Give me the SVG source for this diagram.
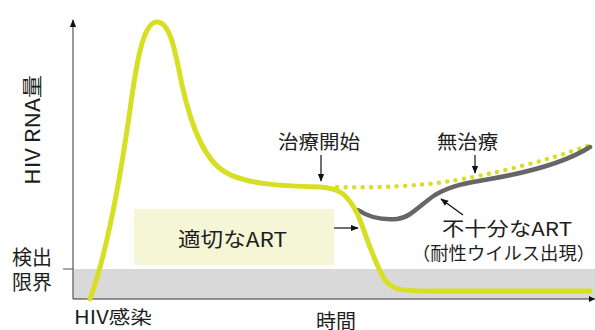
<svg xmlns="http://www.w3.org/2000/svg" width="595" height="330" viewBox="0 0 595 330">
<defs>
<marker id="ah" markerWidth="8" markerHeight="8" viewBox="0 0 10 10" refX="9" refY="5" orient="auto" markerUnits="userSpaceOnUse">
<path d="M0,1 L10,5 L0,9 Z" fill="#111"/>
</marker>
</defs>
<style>
text{font-family:"Noto Sans CJK JP","Noto Sans",sans-serif;fill:#1e1e1e}
.ptr{stroke:#111;stroke-width:1.2;fill:none;marker-end:url(#ah)}
.yl{fill:none;stroke:#d6df23;stroke-width:5;stroke-linecap:round;stroke-linejoin:round}
</style>
<g id="band">
<rect x="73" y="269" width="522" height="30" fill="#d9d9d9"/>
<rect x="134" y="209" width="200" height="56" fill="#f5f6d6"/>
</g>
<g id="axes">
<line x1="73" y1="299" x2="73" y2="20" stroke="#777" stroke-width="1.5" marker-end="url(#ah)"/>
<line x1="73" y1="299" x2="595" y2="299" stroke="#333" stroke-width="1.2"/>
<path d="M589,296 L595,299 L589,302 Z" fill="#111"/>
<line x1="63" y1="269" x2="73" y2="269" stroke="#555" stroke-width="1"/>
</g>
<g id="curves">
<path id="dotted" d="M337,187 C380,188 420,186 450,181 C490,175 550,160 590,145" fill="none" stroke="#d6df23" stroke-width="4.5" stroke-linecap="round" stroke-dasharray="0 8.5"/>
<path id="gray" d="M358,210 C370,218 385,220 397,219 C410,218 420,205 435,195 C450,186 465,183 490,179 C530,172 565,163 590,147" fill="none" stroke="#666" stroke-width="4.5" stroke-linecap="round"/>
<path id="yellow" class="yl" d="M90,299 C108,250 120,180 130,110 C138,50 145,22 157,22 C170,22 175,50 182,85 C192,130 205,160 225,172 C245,184 280,186 320,187 C340,188 348,195 358,215 C368,240 375,265 385,280 C393,291 405,291 430,291 L590,291"/>
</g>
<g id="connectors">
<line class="ptr" x1="321" y1="155" x2="321" y2="181"/>
<line class="ptr" x1="475" y1="155" x2="475" y2="173"/>
<line class="ptr" x1="334" y1="228" x2="358" y2="228"/>
<line class="ptr" x1="463" y1="215" x2="441" y2="199"/>
</g>
<g id="labels">
<text x="0" y="0" font-size="20" transform="translate(40,185) rotate(-90)" textLength="110" lengthAdjust="spacingAndGlyphs">HIV RNA量</text>
<text x="12" y="265" font-size="20">検出</text>
<text x="12" y="290" font-size="20">限界</text>
<text x="74" y="324" font-size="18" textLength="78" lengthAdjust="spacingAndGlyphs">HIV感染</text>
<text x="316" y="329" font-size="20">時間</text>
<text x="278" y="149" font-size="19" textLength="82" lengthAdjust="spacingAndGlyphs">治療開始</text>
<text x="437" y="149" font-size="19" textLength="61" lengthAdjust="spacingAndGlyphs">無治療</text>
<text x="178" y="247" font-size="20" textLength="109" lengthAdjust="spacingAndGlyphs">適切なART</text>
<text x="442" y="236" font-size="19" textLength="130" lengthAdjust="spacingAndGlyphs">不十分なART</text>
<text x="412" y="260" font-size="18" textLength="183" lengthAdjust="spacingAndGlyphs">（耐性ウイルス出現）</text>
</g>
</svg>
